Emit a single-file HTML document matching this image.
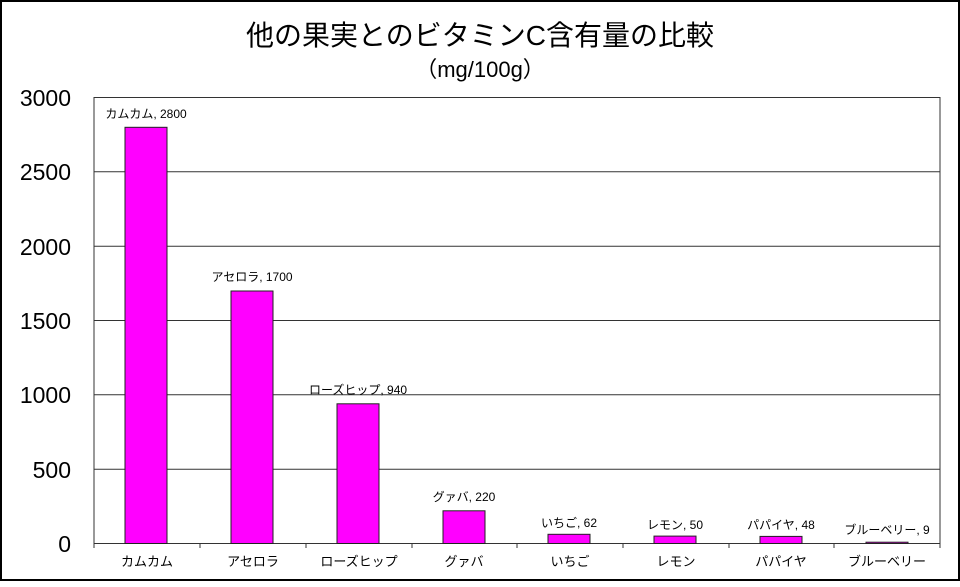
<!DOCTYPE html>
<html><head><meta charset="utf-8"><style>
body{margin:0;background:#fff}
svg text{font-family:"Liberation Sans","Noto Sans CJK JP",sans-serif}
</style></head><body>
<svg width="960" height="582" xmlns="http://www.w3.org/2000/svg">
<rect x="1" y="1" width="958" height="579" fill="#fff" stroke="#000" stroke-width="2"/>
<text x="480" y="45" font-size="28" text-anchor="middle">他の果実とのビタミンC含有量の比較</text>
<text x="480" y="77" font-size="22" text-anchor="middle">（mg/100g）</text>
<g stroke="#333" stroke-width="1">
<line x1="94" y1="171.8" x2="940" y2="171.8"/>
<line x1="94" y1="246.2" x2="940" y2="246.2"/>
<line x1="94" y1="320.5" x2="940" y2="320.5"/>
<line x1="94" y1="394.8" x2="940" y2="394.8"/>
<line x1="94" y1="469.2" x2="940" y2="469.2"/>
<rect x="94" y="97.5" width="846" height="446" fill="none"/>
<g>
<line x1="94" y1="543.5" x2="94" y2="548"/><line x1="200" y1="543.5" x2="200" y2="548"/><line x1="306" y1="543.5" x2="306" y2="548"/><line x1="412" y1="543.5" x2="412" y2="548"/><line x1="517" y1="543.5" x2="517" y2="548"/><line x1="623" y1="543.5" x2="623" y2="548"/><line x1="729" y1="543.5" x2="729" y2="548"/><line x1="834" y1="543.5" x2="834" y2="548"/><line x1="940" y1="543.5" x2="940" y2="548"/>
</g>
</g>
<g font-size="23" text-anchor="end">
<text x="71" y="106">3000</text><text x="71" y="180">2500</text><text x="71" y="255">2000</text><text x="71" y="329">1500</text><text x="71" y="403">1000</text><text x="71" y="478">500</text><text x="71" y="552">0</text>
</g>
<g fill="#ff00ff" stroke="#222" stroke-width="1">
<rect x="125" y="127.3" width="42" height="416.2"/>
<rect x="231" y="291" width="42" height="252.5"/>
<rect x="337" y="403.8" width="42" height="139.7"/>
<rect x="443" y="510.8" width="42" height="32.7"/>
<rect x="548" y="534.3" width="42" height="9.2"/>
<rect x="654" y="536.1" width="42" height="7.4"/>
<rect x="760" y="536.4" width="42" height="7.1"/>
<rect x="866" y="542.2" width="42" height="1.3"/>
</g>
<g font-size="12" text-anchor="middle">
<text x="146" y="118">カムカム, 2800</text>
<text x="252" y="281">アセロラ, 1700</text>
<text x="358" y="394">ローズヒップ, 940</text>
<text x="464" y="501">グァバ, 220</text>
<text x="569" y="527">いちご, 62</text>
<text x="675" y="529">レモン, 50</text>
<text x="781" y="529">パパイヤ, 48</text>
<text x="887" y="534">ブルーベリー, 9</text>
</g>
<g font-size="13" text-anchor="middle">
<text x="147" y="566">カムカム</text>
<text x="253" y="566">アセロラ</text>
<text x="359" y="566">ローズヒップ</text>
<text x="464" y="566">グァバ</text>
<text x="570" y="566">いちご</text>
<text x="676" y="566">レモン</text>
<text x="781" y="566">パパイヤ</text>
<text x="887" y="566">ブルーベリー</text>
</g>
</svg>
</body></html>
